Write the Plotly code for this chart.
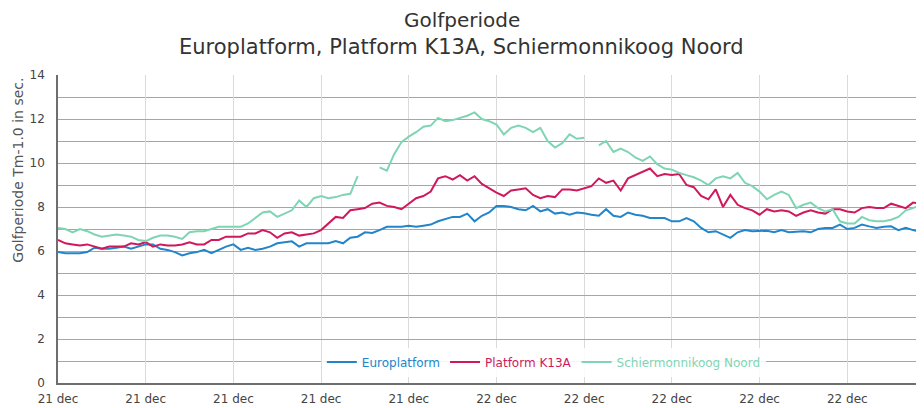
import pandas as pd
import plotly.graph_objects as go

# Time axis: 20-minute samples starting 21 dec 04:00
times = pd.date_range("2023-12-21 04:00", periods=119, freq="20min")

europlatform = [
    5.95, 5.9, 5.9, 5.9, 5.95, 6.15, 6.1, 6.1, 6.15, 6.2,
    6.1, 6.2, 6.3, 6.3, 6.1, 6.05, 5.95, 5.8, 5.9, 5.95,
    6.05, 5.9, 6.05, 6.2, 6.3, 6.05, 6.15, 6.05, 6.1, 6.2,
    6.35, 6.4, 6.44, 6.2, 6.35, 6.35, 6.35, 6.35, 6.45, 6.35,
    6.6, 6.65, 6.85, 6.82, 6.95, 7.1, 7.1, 7.1, 7.15, 7.1,
    7.15, 7.2, 7.35, 7.45, 7.55, 7.55, 7.7, 7.35, 7.6, 7.75,
    8.05, 8.05, 8.0, 7.9, 7.85, 8.05, 7.8, 7.9, 7.7, 7.75,
    7.65, 7.75, 7.72, 7.65, 7.6, 7.9, 7.6, 7.55, 7.75, 7.65,
    7.6, 7.5, 7.5, 7.5, 7.35, 7.35, 7.5, 7.35, 7.05, 6.85,
    6.9, 6.75, 6.6, 6.85, 6.95, 6.9, 6.9, 6.92, 6.85, 6.95,
    6.85, 6.88, 6.9, 6.85, 7.0, 7.05, 7.05, 7.2, 7.0, 7.05,
    7.2, 7.12, 7.05, 7.1, 7.12, 6.95, 7.05, 6.95, 6.88,
]

platform_k13a = [
    6.5, 6.35, 6.3, 6.25, 6.3, 6.2, 6.1, 6.2, 6.2, 6.2,
    6.35, 6.3, 6.4, 6.2, 6.3, 6.25, 6.25, 6.3, 6.4, 6.3,
    6.3, 6.5, 6.5, 6.65, 6.65, 6.65, 6.8, 6.8, 6.95, 6.85,
    6.6, 6.8, 6.85, 6.7, 6.75, 6.8, 6.95, 7.25, 7.55, 7.5,
    7.85, 7.9, 7.95, 8.15, 8.2, 8.05, 8.0, 7.9, 8.15, 8.4,
    8.5, 8.7, 9.3, 9.4, 9.25, 9.45, 9.2, 9.4, 9.05, 8.85,
    8.65, 8.5, 8.75, 8.8, 8.85, 8.55, 8.4, 8.5, 8.45, 8.8,
    8.8, 8.75, 8.85, 8.95, 9.3, 9.1, 9.2, 8.75, 9.3, 9.45,
    9.6, 9.75, 9.4, 9.5, 9.45, 9.5, 9.0, 8.9, 8.5, 8.35,
    8.8, 8.0, 8.55, 8.1, 7.95, 7.85, 7.65, 7.9, 7.8, 7.85,
    7.8, 7.6, 7.75, 7.85, 7.75, 7.7, 7.9, 7.9, 7.8, 7.75,
    7.95, 8.0, 7.95, 7.95, 8.15, 8.05, 7.95, 8.2, 8.15,
]

schiermonnikoog = [
    7.05, 7.0, 6.85, 7.0, 6.9, 6.75, 6.65, 6.7, 6.75, 6.7,
    6.65, 6.5, 6.45, 6.6, 6.7, 6.7, 6.65, 6.55, 6.85, 6.9,
    6.9, 7.0, 7.1, 7.1, 7.1, 7.1, 7.25, 7.5, 7.75, 7.8,
    7.55, 7.7, 7.85, 8.3, 8.0, 8.4, 8.5, 8.4, 8.45, 8.55,
    8.6, 9.4, None, None, 9.8, 9.65, 10.4, 10.95, 11.2, 11.4,
    11.65, 11.7, 12.05, 11.9, 11.95, 12.05, 12.15, 12.3, 12.0, 11.9,
    11.75, 11.3, 11.6, 11.7, 11.6, 11.4, 11.6, 11.0, 10.7, 10.9,
    11.3, 11.1, 11.15, None, 10.8, 11.0, 10.5, 10.65, 10.5, 10.25,
    10.1, 10.3, 9.95, 9.75, 9.7, 9.55, 9.45, 9.35, 9.2, 9.0,
    9.3, 9.4, 9.3, 9.55, 9.1, 8.95, 8.7, 8.35, 8.55, 8.7,
    8.55, 7.95, 8.1, 8.2, 7.95, 7.8, 7.9, 7.35, 7.25, 7.25,
    7.55, 7.4, 7.35, 7.35, 7.42, 7.55, 7.85, 7.95, 8.1,
]

series_names = ["Europlatform", "Platform K13A", "Schiermonnikoog Noord"]
series_values = [europlatform, platform_k13a, schiermonnikoog]
series_colors = ["#2385c9", "#d0185c", "#7fd5b3"]

x_tick_vals = pd.date_range("2023-12-21 04:00", periods=10, freq="4h")
x_tick_text = ["21 dec"] * 5 + ["22 dec"] * 5
y_tick_vals = [0, 2, 4, 6, 8, 10, 12, 14]

FONT = "DejaVu Sans, Verdana, sans-serif"

fig = go.Figure()
for name, vals, col in zip(series_names, series_values, series_colors):
    fig.add_trace(go.Scatter(
        x=times, y=vals, mode="lines",
        name=f'<span style="color:{col}">{name}</span>',
        line=dict(color=col, width=2),
        connectgaps=False,
    ))

# page body adds an 8px offset, so the figure is 8px smaller and margins shifted
fig.update_layout(
    width=916, height=400,
    margin=dict(l=50, r=0, t=67, b=25),
    paper_bgcolor="white", plot_bgcolor="white",
    font=dict(family=FONT, size=12, color="#444"),
    showlegend=True,
    legend=dict(
        orientation="h", x=0.561, xanchor="center", y=0.068, yanchor="middle",
        bgcolor="rgba(255,255,255,0.88)", font=dict(size=12, family=FONT),
        itemwidth=30, tracegroupgap=0,
    ),
    xaxis=dict(
        range=[pd.Timestamp("2023-12-21 04:00"), pd.Timestamp("2023-12-22 19:30")],
        tickvals=x_tick_vals, ticktext=x_tick_text,
        showgrid=True, gridcolor="#dadada", gridwidth=1,
        showline=True, linecolor="#6e6e6e", linewidth=1.5,
        ticks="", ticklabelstandoff=4,
        tickfont=dict(size=12, color="#444"),
        zeroline=False,
    ),
    yaxis=dict(
        range=[0, 14], tickvals=y_tick_vals,
        showgrid=True, gridcolor="#a6a6a6", gridwidth=1.2,
        minor=dict(dtick=1, showgrid=True, gridcolor="#a6a6a6", gridwidth=1.2),
        showline=True, linecolor="#6e6e6e", linewidth=1.5,
        ticks="", ticklabelstandoff=9,
        tickfont=dict(size=12, color="#444"),
        zeroline=False,
    ),
    annotations=[
        dict(text="Golfperiode", xref="paper", yref="paper",
             x=0.4665, y=1.1786, xanchor="center", yanchor="middle",
             showarrow=False, font=dict(size=20, color="#333", family=FONT)),
        dict(text="Europlatform, Platform K13A, Schiermonnikoog Noord",
             xref="paper", yref="paper",
             x=0.4665, y=1.0909, xanchor="center", yanchor="middle",
             showarrow=False, font=dict(size=21, color="#333", family=FONT)),
        dict(text="Golfperiode Tm-1.0 in sec.", xref="paper", yref="paper",
             x=-0.046, y=0.69, xanchor="center", yanchor="middle",
             textangle=-90, showarrow=False,
             font=dict(size=14, color="#555", family=FONT)),
    ],
)

fig.write_html("out.html")
